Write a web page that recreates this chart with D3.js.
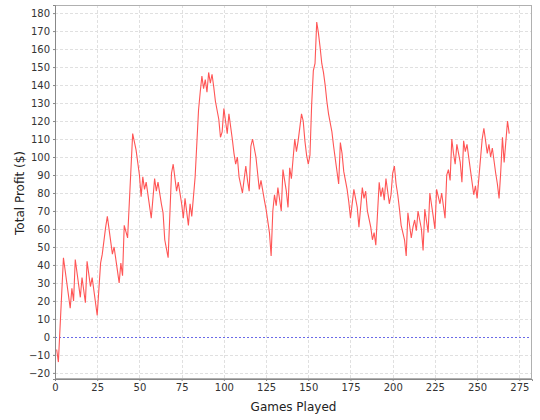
<!DOCTYPE html>
<html>
<head>
<meta charset="utf-8">
<script src="https://cdn.jsdelivr.net/npm/d3@7"></script>
<style>
  body { margin: 0; background: #fff; }
  text { font-family: "DejaVu Sans", sans-serif; }
</style>
</head>
<body>
<div id="chart"></div>
<script>
var games = [1, 2, 5, 9, 10, 11, 12, 15, 16, 18, 19, 21, 22, 25, 27, 28, 30, 31, 33, 34, 35, 38, 39, 40, 41, 43,
  46, 48, 50, 51, 52, 53, 54, 57, 59, 60, 61, 63, 64, 65, 67, 69, 70, 72, 73, 75, 76, 77, 79, 80, 81, 82, 83,
  85, 86, 87, 88, 89, 90, 91, 92, 93, 94, 95, 97, 98, 99, 100, 101, 102, 103, 105, 106, 107, 108, 109, 111,
  113, 114, 115, 116, 117, 119, 120, 121, 122, 124, 125, 127, 128, 129, 130, 131, 132, 134, 135, 137, 138,
  139, 140, 142, 143, 144, 146, 147, 148, 149, 150, 151, 152, 153, 154, 155, 156, 157, 158, 159, 160, 161,
  162, 163, 164, 165, 166, 168, 169, 170, 171, 173, 174, 175, 177, 179, 180, 182, 183, 184, 185, 187, 188,
  189, 190, 192, 193, 194, 195, 196, 198, 199, 200, 201, 202, 203, 204, 205, 207, 208, 209, 211, 212, 213,
  214, 215, 217, 218, 219, 221, 222, 224, 225, 226, 228, 229, 231, 232, 233, 234, 235, 236, 237, 238, 240,
  241, 242, 243, 244, 246, 248, 249, 250, 252, 253, 254, 256, 257, 258, 259, 261, 262, 263, 264, 265, 266,
  268, 269];
var profit = [-7, -14, 44, 16, 27, 20, 43, 22, 33, 19, 42, 28, 33, 12, 41, 46, 61, 67, 53, 46, 50, 30, 41, 34, 62, 55,
  113, 104, 90, 78, 89, 82, 86, 66, 88, 81, 86, 74, 69, 54, 44, 91, 96, 81, 86, 74, 66, 77, 62, 74, 67, 78, 89,
  126, 136, 145, 138, 143, 136, 147, 141, 146, 139, 131, 121, 111, 114, 127, 120, 113, 124, 110, 102, 96, 100, 89, 80,
  95, 87, 81, 106, 110, 100, 91, 82, 87, 76, 71, 58, 45, 70, 79, 73, 83, 70, 93, 81, 72,
  94, 88, 110, 103, 109, 124, 120, 109, 101, 96, 101, 129, 148, 152, 175, 169, 161, 152, 147, 140, 131,
  124, 119, 114, 106, 99, 85, 108, 102, 92, 82, 75, 66, 82, 72, 61, 83, 77, 81, 70, 61, 54,
  58, 51, 86, 78, 83, 76, 88, 74, 79, 91, 95, 85, 79, 71, 62, 54, 45, 69, 55, 61, 65,
  59, 70, 60, 48, 71, 58, 80, 67, 60, 82, 74, 80, 66, 90, 93, 87, 110, 102, 96, 107, 97,
  86, 109, 103, 107, 93, 79, 84, 77, 99, 110, 116, 102, 107, 100, 105, 91, 85, 77, 92, 111, 97,
  120, 113];
var xTicks = [0, 25, 50, 75, 100, 125, 150, 175, 200, 225, 250, 275];
var yTicks = d3.range(-20, 181, 10);

var margin = {top: 5, right: 8, bottom: 41, left: 55},
    width = 540 - margin.left - margin.right,
    height = 420 - margin.top - margin.bottom;

var x = d3.scaleLinear().domain([0, 282.5]).range([0, width]);
var y = d3.scaleLinear().domain([-23.4, 184.5]).range([height, 0]);

var data = games.map(function(g, i) { return {g: g, v: profit[i]}; });

var svg = d3.select("#chart").append("svg")
    .attr("width", 540)
    .attr("height", 420)
  .append("g")
    .attr("transform", "translate(" + margin.left + "," + margin.top + ")");

// plot background
svg.append("rect")
    .attr("width", width)
    .attr("height", height)
    .attr("fill", "#fff");

// gridlines
svg.append("g").selectAll("line")
    .data(xTicks.slice(1))
  .enter().append("line")
    .attr("x1", function(d) { return Math.round(x(d)) + 0.5; })
    .attr("x2", function(d) { return Math.round(x(d)) + 0.5; })
    .attr("y1", 0).attr("y2", height)
    .attr("stroke", "#e0e0e0")
    .attr("stroke-dasharray", "3,2");

svg.append("g").selectAll("line")
    .data(yTicks.filter(function(d) { return d !== 0; }))
  .enter().append("line")
    .attr("x1", 0).attr("x2", width)
    .attr("y1", function(d) { return Math.round(y(d)) + 0.5; })
    .attr("y2", function(d) { return Math.round(y(d)) + 0.5; })
    .attr("stroke", "#e0e0e0")
    .attr("stroke-dasharray", "3,2");

// zero line
svg.append("line")
    .attr("x1", 0).attr("x2", width)
    .attr("y1", Math.round(y(0)) + 0.5)
    .attr("y2", Math.round(y(0)) + 0.5)
    .attr("stroke", "#6a6ae8")
    .attr("stroke-dasharray", "2,2");

// outline
svg.append("rect")
    .attr("x", 0.5).attr("y", 0.5)
    .attr("width", width - 1)
    .attr("height", height - 1)
    .attr("fill", "none")
    .attr("stroke", "#b0b0b0");

// the profit line
var valueline = d3.line()
    .x(function(d) { return x(d.g); })
    .y(function(d) { return y(d.v); });

svg.append("path")
    .datum(data)
    .attr("d", valueline)
    .attr("fill", "none")
    .attr("stroke", "#ff5555")
    .attr("stroke-width", 1.1);

// axes
var xAxis = svg.append("g")
    .attr("transform", "translate(0," + height + ")")
    .call(d3.axisBottom(x).tickValues(xTicks).tickSize(2).tickPadding(3));

var yAxis = svg.append("g")
    .call(d3.axisLeft(y).tickValues(yTicks).tickSize(2).tickPadding(3));

[xAxis, yAxis].forEach(function(a) {
  a.select(".domain").attr("stroke", "#888");
  a.selectAll(".tick line").attr("stroke", "#888");
  a.selectAll("text")
      .attr("fill", "#333")
      .style("font-size", "10px")
      .style("font-family", "DejaVu Sans, sans-serif");
});

// axis labels
svg.append("text")
    .attr("x", width / 2)
    .attr("y", height + 32)
    .attr("text-anchor", "middle")
    .attr("fill", "#222")
    .style("font-size", "12px")
    .text("Games Played");

svg.append("text")
    .attr("transform", "rotate(-90)")
    .attr("x", -(y(80)))
    .attr("y", -31)
    .attr("text-anchor", "middle")
    .attr("fill", "#222")
    .style("font-size", "12px")
    .text("Total Profit ($)");
</script>
</body>
</html>
